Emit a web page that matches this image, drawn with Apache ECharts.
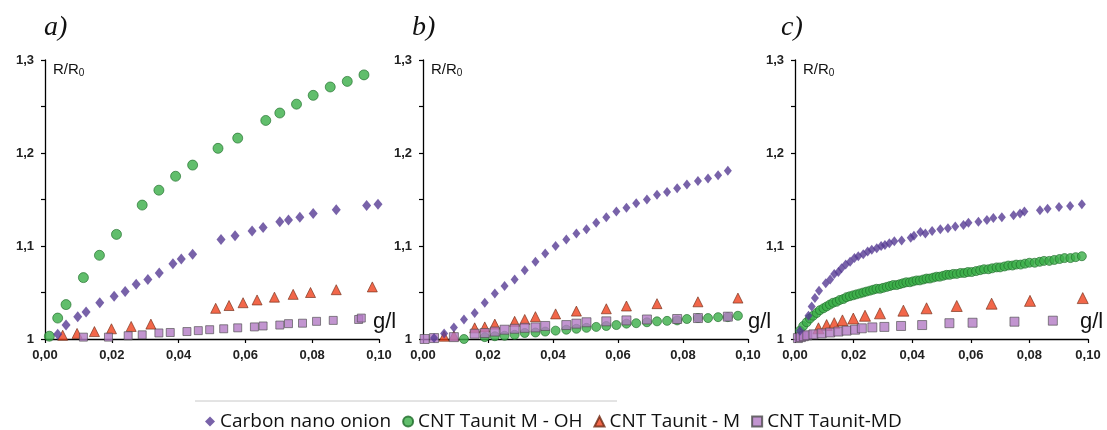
<!DOCTYPE html>
<html>
<head>
<meta charset="utf-8">
<script src="https://cdn.jsdelivr.net/npm/echarts@6/dist/echarts.min.js"></script>
<style>
html,body{margin:0;padding:0;background:#ffffff;}
#chart{width:1107px;height:430px;}
</style>
</head>
<body>
<div id="chart"></div>
<script>
// ---- Series names ----
const seriesNames = ['Carbon nano onion', 'CNT Taunit M - OH', 'CNT Taunit - M', 'CNT Taunit-MD'];
const panelTitles = ['a)', 'b)', 'c)'];
const xTickLabels = ['0,00', '0,02', '0,04', '0,06', '0,08', '0,10'];
const yTickLabels = ['1', '1,1', '1,2', '1,3'];

// ---- Panel a ----
const onionA = [[0.0038,1.005],[0.0063,1.015],[0.0098,1.024],[0.0123,1.029],[0.0164,1.039],[0.0207,1.046],[0.024,1.051],[0.0273,1.059],[0.0308,1.064],[0.0342,1.071],[0.0383,1.081],[0.0408,1.086],[0.0442,1.091],[0.0527,1.107],[0.0569,1.111],[0.062,1.116],[0.0653,1.12],[0.0703,1.126],[0.0729,1.128],[0.0763,1.131],[0.0803,1.135],[0.0872,1.139],[0.0963,1.1435],[0.0997,1.145]];
const mohA = [[0.0013,1.003],[0.0038,1.0225],[0.0063,1.037],[0.0115,1.066],[0.0163,1.090],[0.0214,1.1125],[0.0291,1.144],[0.0341,1.160],[0.0391,1.175],[0.0442,1.187],[0.0518,1.205],[0.0577,1.216],[0.0661,1.235],[0.0703,1.243],[0.0753,1.2525],[0.0803,1.262],[0.0854,1.271],[0.0905,1.277],[0.0955,1.284]];
const mA = [[0.0053,1.004],[0.0096,1.006],[0.0148,1.008],[0.0199,1.011],[0.0258,1.0135],[0.0317,1.016],[0.0511,1.033],[0.0551,1.036],[0.0593,1.039],[0.0635,1.042],[0.0687,1.045],[0.0743,1.048],[0.0795,1.05],[0.0872,1.053],[0.098,1.056]];
const mdA = [[0.0115,1.002],[0.019,1.002],[0.0249,1.0035],[0.0291,1.0045],[0.0341,1.0065],[0.0375,1.007],[0.0425,1.008],[0.0459,1.009],[0.0493,1.010],[0.0535,1.011],[0.0577,1.012],[0.0627,1.013],[0.0653,1.014],[0.0703,1.015],[0.0729,1.0165],[0.0771,1.017],[0.0813,1.019],[0.0863,1.020],[0.0939,1.021],[0.0947,1.0225]];

// ---- Panel b ----
const onionB = [[0.0034,1.001],[0.0065,1.006],[0.0095,1.0125],[0.0126,1.021],[0.0159,1.028],[0.019,1.039],[0.0221,1.049],[0.0251,1.057],[0.0282,1.064],[0.0313,1.074],[0.0346,1.083],[0.0376,1.092],[0.0408,1.100],[0.0441,1.107],[0.0472,1.1135],[0.0503,1.118],[0.0533,1.125],[0.0564,1.131],[0.0595,1.137],[0.0626,1.141],[0.0656,1.146],[0.0689,1.150],[0.072,1.155],[0.0751,1.158],[0.0782,1.162],[0.0812,1.166],[0.0846,1.170],[0.0877,1.1725],[0.0908,1.176],[0.0938,1.181]];
const mohB = [[0.0126,1.000],[0.019,1.002],[0.0221,1.003],[0.0251,1.0035],[0.0282,1.0045],[0.0313,1.0065],[0.0346,1.007],[0.0376,1.008],[0.0408,1.009],[0.0441,1.010],[0.0472,1.011],[0.0503,1.012],[0.0533,1.013],[0.0564,1.014],[0.0595,1.015],[0.0626,1.0165],[0.0656,1.017],[0.0689,1.018],[0.072,1.019],[0.0751,1.0195],[0.0782,1.020],[0.0812,1.0215],[0.0846,1.0225],[0.0877,1.0225],[0.0908,1.0235],[0.0938,1.0235],[0.0969,1.025]];
const mB = [[0.0065,1.003],[0.0095,1.0035],[0.0159,1.012],[0.019,1.013],[0.0221,1.016],[0.0282,1.019],[0.0313,1.021],[0.0346,1.024],[0.0408,1.027],[0.0472,1.030],[0.0564,1.0325],[0.0626,1.0355],[0.072,1.038],[0.0846,1.040],[0.0969,1.044]];
const mdB = [[0.0005,1.000],[0.0034,1.001],[0.0095,1.002],[0.0159,1.0057],[0.019,1.0064],[0.0221,1.008],[0.0251,1.010],[0.0282,1.011],[0.0313,1.012],[0.0346,1.0125],[0.0376,1.014],[0.0441,1.015],[0.0472,1.0165],[0.0503,1.018],[0.0564,1.019],[0.0626,1.020],[0.0689,1.021],[0.0782,1.0215],[0.0846,1.0225],[0.0938,1.024]];

// ---- Panel c ----
const onionC = [[0.0017,1.009],[0.0046,1.025],[0.0057,1.035],[0.0068,1.044],[0.0082,1.052],[0.0105,1.060],[0.012,1.064],[0.0134,1.070],[0.0148,1.072],[0.0159,1.076],[0.0173,1.080],[0.0188,1.083],[0.0203,1.087],[0.0216,1.089],[0.0233,1.091],[0.0248,1.094],[0.0262,1.096],[0.0279,1.0975],[0.0294,1.100],[0.0307,1.101],[0.0322,1.103],[0.0339,1.105],[0.0364,1.106],[0.0395,1.109],[0.0406,1.111],[0.0428,1.115],[0.0445,1.1135],[0.0468,1.116],[0.0496,1.118],[0.0522,1.119],[0.0547,1.121],[0.0575,1.1225],[0.0592,1.125],[0.0626,1.126],[0.0655,1.128],[0.0677,1.130],[0.0706,1.131],[0.0746,1.133],[0.0768,1.135],[0.0783,1.137],[0.0836,1.1385],[0.0862,1.140],[0.0901,1.142],[0.0939,1.143],[0.0979,1.145]];
const mohC = [[0.0017,1.009],[0.0028,1.014],[0.004,1.018],[0.0051,1.022],[0.0062,1.025],[0.0074,1.028],[0.0085,1.031],[0.0097,1.033],[0.0108,1.035],[0.0119,1.037],[0.013,1.039],[0.0142,1.040],[0.0153,1.042],[0.0165,1.043],[0.0176,1.045],[0.0187,1.046],[0.0199,1.047],[0.021,1.048],[0.0222,1.049],[0.0233,1.050],[0.0244,1.051],[0.0256,1.052],[0.0267,1.053],[0.0278,1.054],[0.029,1.054],[0.0301,1.055],[0.0313,1.056],[0.0324,1.057],[0.0335,1.058],[0.0347,1.058],[0.0358,1.059],[0.0369,1.060],[0.038,1.061],[0.0392,1.061],[0.0403,1.062],[0.0415,1.063],[0.0426,1.063],[0.0438,1.064],[0.0449,1.065],[0.046,1.065],[0.0472,1.066],[0.0483,1.067],[0.0494,1.067],[0.0506,1.068],[0.0517,1.069],[0.0528,1.069],[0.054,1.070],[0.0552,1.070],[0.0565,1.071],[0.0578,1.071],[0.059,1.072],[0.0603,1.072],[0.0618,1.073],[0.0632,1.074],[0.0645,1.075],[0.066,1.075],[0.0673,1.076],[0.0688,1.077],[0.07,1.077],[0.0715,1.078],[0.0728,1.079],[0.0742,1.079],[0.0755,1.080],[0.077,1.080],[0.0785,1.081],[0.08,1.082],[0.0818,1.082],[0.0835,1.083],[0.085,1.084],[0.0868,1.084],[0.0885,1.085],[0.0903,1.086],[0.092,1.087],[0.094,1.087],[0.0958,1.088],[0.0979,1.089]];
const mC = [[0.008,1.0115],[0.0108,1.015],[0.0134,1.017],[0.0162,1.020],[0.0199,1.022],[0.0239,1.025],[0.029,1.0276],[0.037,1.0305],[0.0449,1.033],[0.0552,1.0355],[0.0671,1.038],[0.0802,1.041],[0.0982,1.044]];
const mdC = [[0.001,1.001],[0.002,1.002],[0.003,1.003],[0.0042,1.004],[0.0063,1.005],[0.0091,1.006],[0.012,1.007],[0.0148,1.008],[0.0176,1.009],[0.0205,1.010],[0.0228,1.0115],[0.0264,1.0125],[0.0305,1.013],[0.0362,1.014],[0.0434,1.015],[0.0527,1.017],[0.0606,1.0175],[0.0749,1.0186],[0.088,1.0197]];

const panelData = [
  [onionA, mohA, mA, mdA],
  [onionB, mohB, mB, mdB],
  [onionC, mohC, mC, mdC]
];

// ---- Layout / style ----
const grids = [
  {left: 45, top: 60, width: 334, height: 279},
  {left: 423, top: 60, width: 325, height: 279},
  {left: 795, top: 60, width: 293, height: 279}
];
const gNameGap = [-6, 0, -8];
const titleX = [44, 412, 781];

const styles = [
  {symbol: 'diamond', itemStyle: {color: '#563b94'}},
  {symbol: 'circle', itemStyle: {color: '#3aae47', borderColor: '#1d6a28', borderWidth: 0.8}},
  {symbol: 'triangle', itemStyle: {color: '#ef411d', borderColor: '#6e2a14', borderWidth: 0.8}},
  {symbol: 'rect', itemStyle: {color: '#b37ac4', borderColor: '#4a4a4a', borderWidth: 0.8}}
];
const sizeByPanel = [
  [[9, 11], 10, 10, 8],
  [[8, 10], 9, 10, 9],
  [[8, 10], 9, 11, 9]
];

const labelFont = {fontFamily: '"Liberation Sans", Arial, sans-serif', fontSize: 13, fontWeight: 'bold', color: '#222'};

const xAxes = grids.map((g, i) => ({
  type: 'value', gridIndex: i, min: 0, max: 0.1, interval: 0.02,
  axisLine: {lineStyle: {color: '#000', width: 1.3}},
  axisTick: {show: true, inside: false, length: 4, lineStyle: {color: '#000', width: 1.2}},
  splitLine: {show: false},
  axisLabel: Object.assign({margin: 10, formatter: v => xTickLabels[Math.round(v / 0.02)]}, labelFont),
  name: 'g/l', nameLocation: 'end', nameGap: gNameGap[i],
  nameTextStyle: {fontFamily: '"Liberation Sans", Arial, sans-serif', fontSize: 22, color: '#111', verticalAlign: 'bottom', padding: [0, 0, 6, 0]}
}));
const yAxes = grids.map((g, i) => ({
  type: 'value', gridIndex: i, min: 1, max: 1.3, interval: 0.05,
  axisLine: {show: true, lineStyle: {color: '#000', width: 1.3}},
  axisTick: {show: true, inside: false, length: 4, lineStyle: {color: '#000', width: 1.2}},
  splitLine: {show: false},
  axisLabel: Object.assign({margin: 11, formatter: function (v) {
    const k = Math.round(v * 100);
    return k % 10 === 0 ? yTickLabels[(k - 100) / 10] : '';
  }}, labelFont),
  name: '{a|R/R}{s|0}', nameLocation: 'end', nameGap: -2,
  nameTextStyle: {
    align: 'left', verticalAlign: 'top', padding: [0, 0, 0, 8],
    rich: {
      a: {fontFamily: '"Liberation Sans", Arial, sans-serif', fontSize: 15, color: '#111'},
      s: {fontFamily: '"Liberation Sans", Arial, sans-serif', fontSize: 10, color: '#111', verticalAlign: 'bottom', padding: [6, 0, 0, 0]}
    }
  }
}));

const series = [];
panelData.forEach((pd, p) => {
  pd.forEach((data, s) => {
    series.push({
      type: 'scatter', name: seriesNames[s], xAxisIndex: p, yAxisIndex: p,
      symbol: styles[s].symbol, symbolSize: sizeByPanel[p][s],
      itemStyle: styles[s].itemStyle, data: data, z: 2 + (s === 0 ? 1 : 0)
    });
  });
});

const graphics = panelTitles.map((t, i) => ({
  type: 'text', left: titleX[i], top: 14,
  style: {text: t, font: 'italic 28px "Liberation Serif", "Times New Roman", serif', fill: '#111'}
}));
graphics.push({type: 'line', shape: {x1: 195, y1: 401, x2: 617, y2: 401}, style: {stroke: '#c8c8c8', lineWidth: 1}});

const chart = echarts.init(document.getElementById('chart'), null, {renderer: 'canvas'});
chart.setOption({
  animation: false,
  backgroundColor: '#ffffff',
  grid: grids,
  xAxis: xAxes,
  yAxis: yAxes,
  legend: {
    data: seriesNames.map((n, i) => ({name: n, icon: styles[i].symbol})),
    left: 200, top: 407, itemWidth: 10, itemHeight: 10, itemGap: 11, itemTextGap: 3,
    textStyle: {fontFamily: '"Open Sans", sans-serif', fontSize: 19, color: '#111'},
    selectedMode: false
  },
  graphic: graphics,
  series: series
});
</script>
</body>
</html>
